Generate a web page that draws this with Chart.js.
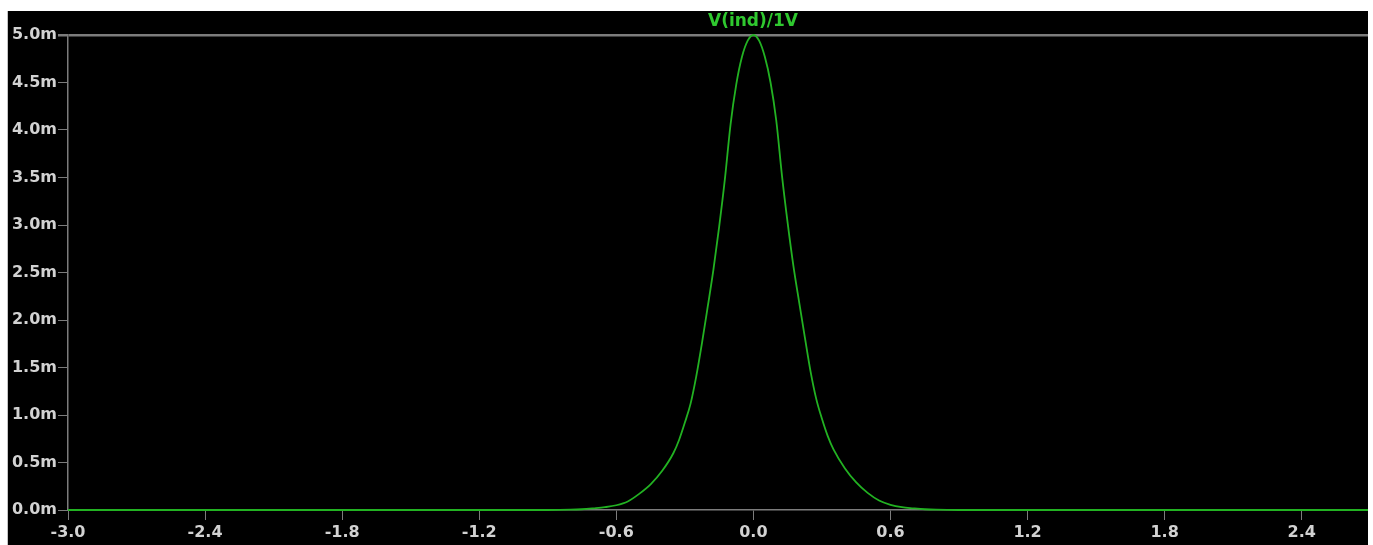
<!DOCTYPE html>
<html>
<head>
<meta charset="utf-8">
<script src="https://cdn.jsdelivr.net/npm/chart.js@4"></script>
<style>
  body { margin: 0; background: #fff; }
  #wrap {
    position: absolute; left: 7px; top: 11px;
    width: 1360px; height: 534px;
    background: #000; border-left: 1px solid #c4c4c4;
  }
</style>
</head>
<body>
<div id="wrap"><canvas id="plot" width="1360" height="534"></canvas></div>
<script>
// trace, y in milli-units
const xVals = [-3.0, -0.9, -0.8, -0.75, -0.7, -0.65, -0.6, -0.55, -0.5, -0.45, -0.4, -0.35, -0.325, -0.3, -0.275, -0.25, -0.225, -0.2, -0.175, -0.15, -0.125, -0.1, -0.075, -0.05, -0.025,
  0,
  0.025, 0.05, 0.075, 0.1, 0.125, 0.15, 0.175, 0.2, 0.225, 0.25, 0.275, 0.3, 0.325, 0.35, 0.4, 0.45, 0.5, 0.55, 0.6, 0.65, 0.7, 0.75, 0.8, 0.9, 2.69];
const yVals = [0, 0, 0.003, 0.008, 0.018, 0.03, 0.05, 0.09, 0.17, 0.27, 0.41, 0.6, 0.74, 0.92, 1.12, 1.41, 1.76, 2.14, 2.53, 2.98, 3.48, 4.06, 4.48, 4.77, 4.94,
  5.0,
  4.94, 4.77, 4.5, 4.1, 3.52, 3.02, 2.57, 2.19, 1.82, 1.46, 1.17, 0.96, 0.78, 0.64, 0.44, 0.29, 0.18, 0.1, 0.055, 0.03, 0.018, 0.008, 0.003, 0, 0];
const traceName = 'V(ind)/1V';

const xTickStart = -3.0;
const xTickStep = 0.6;
const yTickStep = 0.5;

const gray = '#7c7c7c';
const labelColor = '#d2d2d2';
const traceColor = 'rgb(34,178,34)';
const tickFont = { family: 'DejaVu Sans', size: 16, weight: 'bold' };

const points = xVals.map((x, i) => ({ x: x, y: yVals[i] }));

// trace label above the plot, LTspice style
const traceLabel = {
  id: 'traceLabel',
  afterDraw(chart) {
    const ctx = chart.ctx;
    ctx.save();
    ctx.font = 'bold 17px "DejaVu Sans"';
    ctx.fillStyle = '#2fc82f';
    ctx.textAlign = 'center';
    ctx.textBaseline = 'middle';
    ctx.fillText(traceName, 745, 11);
    ctx.restore();
  }
};

new Chart(document.getElementById('plot').getContext('2d'), {
  type: 'line',
  data: {
    datasets: [{
      label: traceName,
      data: points,
      borderColor: traceColor,
      borderWidth: 1.8,
      pointRadius: 0,
      cubicInterpolationMode: 'monotone',
      clip: 4,
      fill: false,
    }],
  },
  options: {
    responsive: false,
    animation: false,
    layout: { padding: { top: 24, left: 0, right: 0, bottom: 0 } },
    plugins: {
      legend: { display: false },
      tooltip: { enabled: false },
    },
    scales: {
      x: {
        type: 'linear',
        min: xTickStart,
        max: 2.69,
        afterFit: (s) => { s.height = 35; },
        border: { display: true, color: gray, width: 1.5 },
        grid: { drawOnChartArea: false, color: gray, tickLength: 10 },
        ticks: {
          stepSize: xTickStep,
          includeBounds: false,
          autoSkip: false,
          maxRotation: 0,
          padding: 3,
          color: labelColor,
          font: tickFont,
          callback: (v) => v.toFixed(1),
        },
      },
      y: {
        min: 0,
        max: 5.0,
        afterFit: (s) => { s.width = 60; },
        border: { display: true, color: gray, width: 1.5 },
        grid: {
          drawOnChartArea: true,
          color: (c) => (c.tick && c.tick.value === 5 ? gray : 'transparent'),
          lineWidth: (c) => (c.tick && c.tick.value === 5 ? 2.5 : 1),
          tickColor: gray,
          tickLength: 10,
        },
        ticks: {
          stepSize: yTickStep,
          padding: 1,
          color: labelColor,
          font: tickFont,
          callback: (v) => v.toFixed(1) + 'm',
        },
      },
    },
  },
  plugins: [traceLabel],
});
</script>
</body>
</html>
